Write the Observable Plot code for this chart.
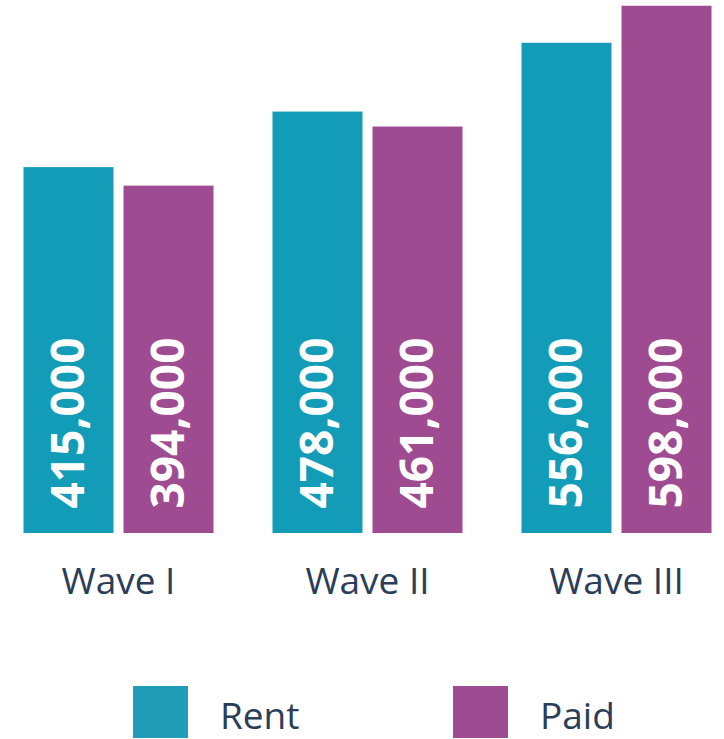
<!DOCTYPE html>
<html>
<head>
<meta charset="utf-8">
<script src="https://cdn.jsdelivr.net/npm/d3@7"></script>
<script src="https://cdn.jsdelivr.net/npm/@observablehq/plot@0.6"></script>
<style>
  body { margin: 0; background: #fff; font-family: "Open Sans", sans-serif; }
  #legend { position: relative; width: 724px; height: 99px; }
  .sw { position: absolute; width: 55px; height: 52px; }
  .lab { position: absolute; font-size: 37px; color: #2B3D59; line-height: 1; }
</style>
</head>
<body>
<div id="chart"></div>
<div id="legend"></div>
<script>
const waves = ["Wave I", "Wave II", "Wave III"];
const series = ["Rent", "Paid"];
const rentValues = [415000, 478000, 556000];
const paidValues = [394000, 461000, 598000];
const barColors = ["#139CB8", "#9E4B92"];
const legendColors = ["#229DB8", "#9E4B92"];

const data = waves.flatMap((w, i) => [
  {wave: w, series: "Rent", value: rentValues[i]},
  {wave: w, series: "Paid", value: paidValues[i]}
]);

const chart = Plot.plot({
  width: 724,
  height: 640,
  marginLeft: 22.5,
  marginRight: 12,
  marginTop: 4,
  marginBottom: 107,
  style: {fontFamily: "Open Sans", color: "#2B3D59", background: "white"},
  fx: {domain: waves, paddingInner: 0.2385, paddingOuter: 0, label: null},
  x: {domain: series, paddingInner: 0.1, paddingOuter: 0, axis: null},
  y: {domain: [0, 600000], axis: null},
  color: {domain: series, range: barColors},
  marks: [
    Plot.barY(data, {fx: "wave", x: "series", y: "value", fill: "series"}),
    Plot.text(data, {
      fx: "wave", x: "series", frameAnchor: "bottom",
      text: d => d3.format(",")(d.value),
      rotate: -90, textAnchor: "start", lineAnchor: "middle",
      dy: -25, fill: "white", fontSize: 46, fontWeight: "bold"
    }),
    Plot.axisFx({anchor: "bottom", tickSize: 0, tickPadding: 34, fontSize: 37, fill: "#2B3D59", label: null})
  ]
});
document.getElementById("chart").appendChild(chart);

const legend = document.getElementById("legend");
const swLeft = [133, 453];
series.forEach((s, i) => {
  const sw = document.createElement("div");
  sw.className = "sw";
  sw.style.left = swLeft[i] + "px";
  sw.style.top = "46px";
  sw.style.background = legendColors[i];
  legend.appendChild(sw);
  const lab = document.createElement("div");
  lab.className = "lab";
  lab.style.left = (swLeft[i] + 87) + "px";
  lab.style.top = "56px";
  lab.textContent = s;
  legend.appendChild(lab);
});
</script>
</body>
</html>
